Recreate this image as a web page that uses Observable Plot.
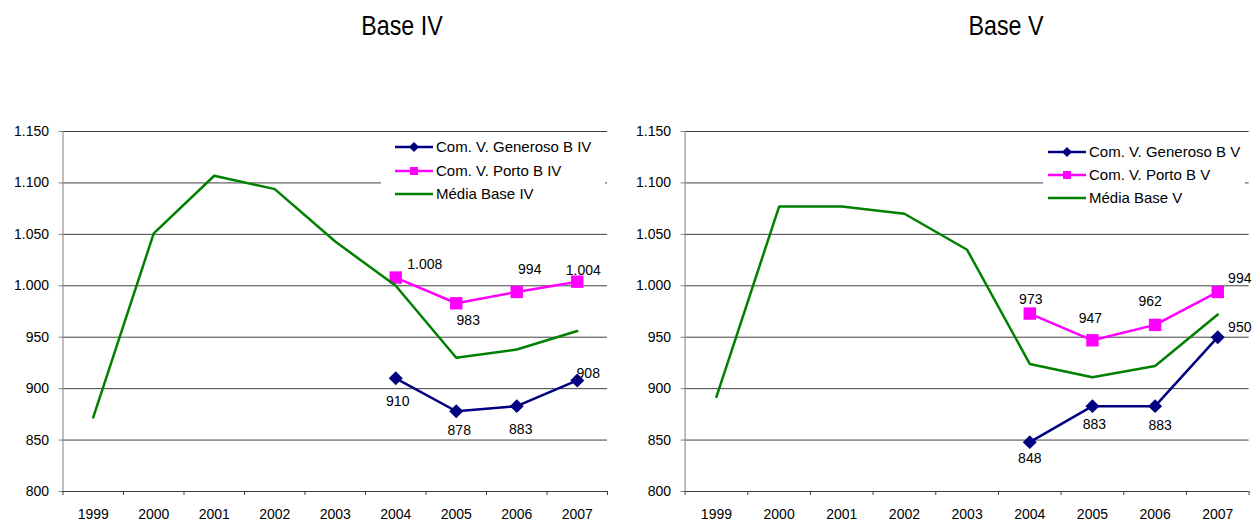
<!DOCTYPE html>
<html>
<head>
<meta charset="utf-8">
<script src="https://cdn.jsdelivr.net/npm/d3@7"></script>
<script src="https://cdn.jsdelivr.net/npm/@observablehq/plot@0.6"></script>
<style>
  body { margin: 0; background: #fff; font-family: "Liberation Sans", Arial, sans-serif; }
  #wrap { position: relative; width: 1253px; height: 521px; overflow: hidden; background: #fff; }
  .chart { position: absolute; top: 0; }
  .chart svg { overflow: visible; }
  .title { position: absolute; font-family: "Liberation Sans Narrow", "Arial Narrow", "Liberation Sans", sans-serif;
           font-size: 28px; line-height: 28px; transform: translateX(-50%) scaleX(0.83); transform-origin: 50% 50%;
           white-space: nowrap; color: #000; }
  .legend { position: absolute; background: #fff; z-index: 2; }
  .row { position: absolute; height: 16px; line-height: 16px; display: flex; align-items: center;
         font-size: 15px; color: #000; white-space: nowrap; }
  .row svg { display: block; margin-right: 3px; }
</style>
</head>
<body>
<div id="wrap"></div>
<script>
// ---------- data ----------
const years = [1999, 2000, 2001, 2002, 2003, 2004, 2005, 2006, 2007];
const subYears = [2004, 2005, 2006, 2007];
const yTicks = [800, 850, 900, 950, 1000, 1050, 1100, 1150];

const titles = ["Base IV", "Base V"];

const mediaIV    = [872, 1051, 1107, 1094, 1043, 1000, 930, 938, 956];
const generosoIV = [910, 878, 883, 908];
const portoIV    = [1008, 983, 994, 1004];
const seriesIV   = ["Com. V. Generoso B IV", "Com. V. Porto B IV", "Média Base IV"];

const mediaV     = [892, 1077, 1077, 1070, 1035, 924, 911, 922, 972];
const generosoV  = [848, 883, 883, 950];
const portoV     = [973, 947, 962, 994];
const seriesV    = ["Com. V. Generoso B V", "Com. V. Porto B V", "Média Base V"];

// ---------- styling / layout ----------
const colors = ["#000080", "#ff00ff", "#008000"];
const labelOffsetsIV = {
  generoso: [[2, 23], [3, 19], [4, 23], [11, -7]],
  porto:    [[29, -13], [12, 17], [13, -22], [6, -11]]
};
const labelOffsetsV = {
  generoso: [[0, 16], [2, 18], [5, 19], [22, -10]],
  porto:    [[1, -14], [-2, -22], [-5, -23], [22, -13]]
};

const fmt = d3.formatLocale({decimal: ",", thousands: ".", grouping: [3], currency: ["", ""]}).format(",d");

function makeChart({media, generoso, porto, width, marginLeft, marginRight, offsets}) {
  const mediaData = years.map((x, i) => ({x, y: media[i]}));
  const genData = subYears.map((x, i) => ({x, y: generoso[i]}));
  const portoData = subYears.map((x, i) => ({x, y: porto[i]}));
  const x0 = years[0] - 0.5, x1 = years[years.length - 1] + 0.5;
  const bounds = [x0, ...years.map(y => y + 0.5)];
  const labels = [];
  genData.forEach((d, i) => labels.push(Plot.text([d], {x: "x", y: "y", text: d => fmt(d.y),
    dx: offsets.generoso[i][0], dy: offsets.generoso[i][1], fill: "#000", fontSize: 14})));
  portoData.forEach((d, i) => labels.push(Plot.text([d], {x: "x", y: "y", text: d => fmt(d.y),
    dx: offsets.porto[i][0], dy: offsets.porto[i][1], fill: "#000", fontSize: 14})));
  return Plot.plot({
    width, height: 521,
    marginTop: 131, marginBottom: 30, marginLeft, marginRight,
    x: {domain: [x0, x1], label: null},
    y: {domain: [800, 1150], label: null},
    style: {fontFamily: "'Liberation Sans', Arial, sans-serif", fontSize: "14px", color: "#000", background: "transparent", overflow: "visible"},
    marks: [
      Plot.gridY(yTicks, {stroke: "#404040", strokeOpacity: 1}),
      Plot.ruleX([x0], {stroke: "#808080"}),
      Plot.axisY(yTicks, {tickSize: 4, tickPadding: 10, tickFormat: fmt, stroke: "#808080", label: null}),
      Plot.axisX(bounds, {tickSize: 4, tickFormat: () => "", stroke: "#404040", label: null}),
      Plot.axisX(years, {tickSize: 0, tickPadding: 18, tickFormat: d => String(d), label: null}),
      Plot.ruleY([800], {stroke: "#404040"}),
      Plot.line(genData, {x: "x", y: "y", stroke: colors[0], strokeWidth: 2.5}),
      Plot.dot(genData, {x: "x", y: "y", symbol: "diamond2", r: 6.3, fill: colors[0], stroke: "none"}),
      Plot.line(portoData, {x: "x", y: "y", stroke: colors[1], strokeWidth: 2.5}),
      Plot.dot(portoData, {x: "x", y: "y", symbol: "square", r: 7, fill: colors[1], stroke: "none"}),
      Plot.line(mediaData, {x: "x", y: "y", stroke: colors[2], strokeWidth: 2.5}),
      ...labels
    ]
  });
}

function swatch(i) {
  const ns = "http://www.w3.org/2000/svg";
  const s = document.createElementNS(ns, "svg");
  s.setAttribute("width", 38); s.setAttribute("height", 16);
  const l = document.createElementNS(ns, "line");
  l.setAttribute("x1", 0); l.setAttribute("x2", 38); l.setAttribute("y1", 8); l.setAttribute("y2", 8);
  l.setAttribute("stroke", colors[i]); l.setAttribute("stroke-width", 2.5);
  s.appendChild(l);
  if (i === 0) {
    const p = document.createElementNS(ns, "path");
    p.setAttribute("d", "M19,3 L24,8 L19,13 L14,8 Z"); p.setAttribute("fill", colors[i]);
    s.appendChild(p);
  } else if (i === 1) {
    const r = document.createElementNS(ns, "rect");
    r.setAttribute("x", 15); r.setAttribute("y", 4); r.setAttribute("width", 8); r.setAttribute("height", 8);
    r.setAttribute("fill", colors[i]);
    s.appendChild(r);
  }
  return s;
}

function makeLegend(names, box, rowTop, padLeft, spacing) {
  const lg = document.createElement("div");
  lg.className = "legend";
  Object.assign(lg.style, {left: box[0] + "px", top: box[1] + "px", width: box[2] + "px", height: box[3] + "px"});
  names.forEach((n, i) => {
    const row = document.createElement("div");
    row.className = "row";
    row.style.left = padLeft + "px";
    row.style.top = (rowTop + i * spacing) + "px";
    row.appendChild(swatch(i));
    const t = document.createElement("span");
    t.textContent = n;
    row.appendChild(t);
    lg.appendChild(row);
  });
  return lg;
}

const wrap = document.getElementById("wrap");

const c1 = document.createElement("div");
c1.className = "chart"; c1.style.left = "0px";
c1.appendChild(makeChart({media: mediaIV, generoso: generosoIV, porto: portoIV, width: 620, marginLeft: 62.5, marginRight: 13, offsets: labelOffsetsIV}));
wrap.appendChild(c1);

const c2 = document.createElement("div");
c2.className = "chart"; c2.style.left = "620px";
c2.appendChild(makeChart({media: mediaV, generoso: generosoV, porto: portoV, width: 633, marginLeft: 64.6, marginRight: 4.4, offsets: labelOffsetsV}));
wrap.appendChild(c2);

[[titles[0], 401.5], [titles[1], 1006]].forEach(([t, cx]) => {
  const d = document.createElement("div");
  d.className = "title"; d.textContent = t;
  d.style.left = cx + "px"; d.style.top = "11.5px";
  wrap.appendChild(d);
});

wrap.appendChild(makeLegend(seriesIV, [381, 136, 224, 72], 2.7, 14, 23.8));
wrap.appendChild(makeLegend(seriesV, [1042.7, 138, 202, 72], 5.7, 5.3, 23.3));
</script>
</body>
</html>
